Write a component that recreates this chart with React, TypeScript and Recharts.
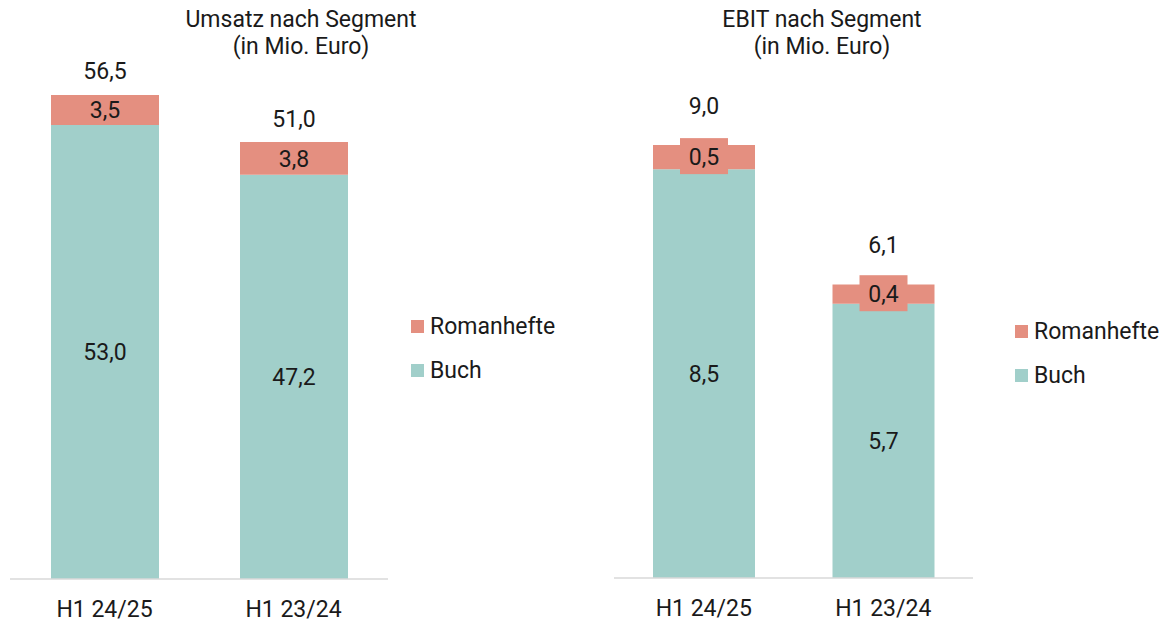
import { BarChart, Bar, XAxis, YAxis, LabelList } from "recharts";

const periods = ["H1 24/25", "H1 23/24"];
const umsatzBuch = [53.0, 47.2];
const umsatzRoman = [3.5, 3.8];
const umsatzTotal = [56.5, 51.0];
const ebitBuch = [8.5, 5.7];
const ebitRoman = [0.5, 0.4];
const ebitTotal = [9.0, 6.1];

const BUCH = "#a1cfca";
const ROMAN = "#e48f80";
const TEXT = "#1a1a1a";
const FONT = "Roboto, sans-serif";
const FS = 23;

const fmt = (v: any) => Number(v).toFixed(1).replace(".", ",");

const umsatzData = periods.map((p, i) => ({
  name: p,
  buch: umsatzBuch[i],
  roman: umsatzRoman[i],
  total: umsatzTotal[i],
}));
const ebitData = periods.map((p, i) => ({
  name: p,
  buch: ebitBuch[i],
  roman: ebitRoman[i],
  total: ebitTotal[i],
}));

const totalLabel = (offset: number) => (props: any) => {
  const { x, y, width, value } = props;
  return (
    <text x={x + width / 2} y={y - offset} textAnchor="middle" dominantBaseline="central"
      fontSize={FS} fill={TEXT} fontFamily={FONT}>
      {fmt(value)}
    </text>
  );
};

const boxedLabel = (props: any) => {
  const { x, y, width, height, value } = props;
  const cx = x + width / 2;
  const cy = y + height / 2;
  return (
    <g>
      <rect x={cx - 24} y={cy - 19} width={48} height={36} fill={ROMAN} />
      <text x={cx} y={cy} textAnchor="middle" dominantBaseline="central"
        fontSize={FS} fill={TEXT} fontFamily={FONT}>
        {fmt(value)}
      </text>
    </g>
  );
};

const Legend = ({ left, top }: { left: number; top: number }) => (
  <div style={{ position: "absolute", left, top, fontFamily: FONT, fontSize: FS, color: TEXT }}>
    {[["Romanhefte", ROMAN], ["Buch", BUCH]].map(([n, c], i) => (
      <div key={n} style={{ display: "flex", alignItems: "center", height: 26, marginBottom: i === 0 ? 18 : 0 }}>
        <div style={{ width: 13, height: 13, background: c, marginRight: 6 }} />
        <span>{n}</span>
      </div>
    ))}
  </div>
);

const Title = ({ cx, lines }: { cx: number; lines: string[] }) => (
  <div style={{ position: "absolute", left: cx - 200, top: 6, width: 400, textAlign: "center",
    fontFamily: FONT, fontSize: FS, lineHeight: "27px", color: TEXT }}>
    {lines.map((l) => <div key={l}>{l}</div>)}
  </div>
);

export default function App() {
  const tick = { fill: TEXT, fontSize: FS, fontFamily: FONT };
  const inner = { fill: TEXT, fontSize: FS, fontFamily: FONT };
  return (
    <div style={{ position: "absolute", left: 0, top: 0, width: 1170, height: 624, background: "#fff" }}>
      <Title cx={301} lines={["Umsatz nach Segment", "(in Mio. Euro)"]} />
      <Title cx={822} lines={["EBIT nach Segment", "(in Mio. Euro)"]} />

      <div style={{ position: "absolute", left: 0, top: 0 }}>
        <BarChart width={400} height={624} data={umsatzData}
          margin={{ top: 65, right: 12, left: 10, bottom: 0 }}>
          <XAxis dataKey="name" axisLine={{ stroke: "#d9d9d9", strokeWidth: 1.5 }} tickLine={false}
            tick={tick} tickMargin={16} height={45} />
          <YAxis hide domain={[0, 60]} />
          <Bar dataKey="buch" stackId="a" fill={BUCH} barSize={108} isAnimationActive={false}>
            <LabelList dataKey="buch" position="center" formatter={fmt} {...inner} />
          </Bar>
          <Bar dataKey="roman" stackId="a" fill={ROMAN} barSize={108} isAnimationActive={false}>
            <LabelList dataKey="roman" position="center" formatter={fmt} {...inner} />
            <LabelList dataKey="total" content={totalLabel(23)} />
          </Bar>
        </BarChart>
      </div>

      <div style={{ position: "absolute", left: 600, top: 0 }}>
        <BarChart width={390} height={624} data={ebitData}
          margin={{ top: 97, right: 17, left: 14, bottom: 0 }}>
          <XAxis dataKey="name" axisLine={{ stroke: "#d9d9d9", strokeWidth: 1.5 }} tickLine={false}
            tick={tick} tickMargin={16} height={46} />
          <YAxis hide domain={[0, 10]} />
          <Bar dataKey="buch" stackId="a" fill={BUCH} barSize={102} isAnimationActive={false}>
            <LabelList dataKey="buch" position="center" formatter={fmt} {...inner} />
          </Bar>
          <Bar dataKey="roman" stackId="a" fill={ROMAN} barSize={102} isAnimationActive={false}>
            <LabelList dataKey="roman" content={boxedLabel} />
            <LabelList dataKey="total" content={totalLabel(39)} />
          </Bar>
        </BarChart>
      </div>

      <Legend left={411} top={313} />
      <Legend left={1015} top={318} />
    </div>
  );
}
